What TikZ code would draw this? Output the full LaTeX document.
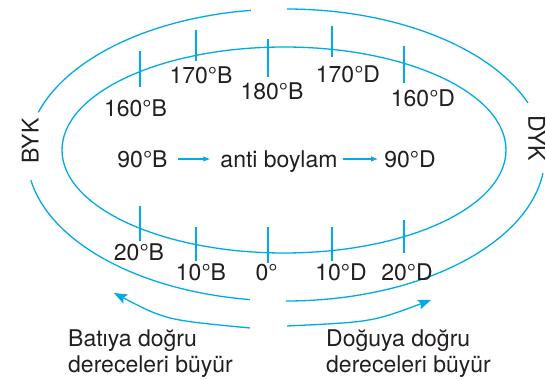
\documentclass[tikz,border=0pt]{standalone}
\usepackage{fontspec}
\setmainfont{TeX Gyre Heros}
\usetikzlibrary{arrows.meta}
\definecolor{lineblue}{RGB}{0,170,230}
\definecolor{inkgray}{RGB}{35,31,32}
\tikzset{
  curve/.style={draw=lineblue, line width=1.3pt},
  tick/.style={draw=lineblue, line width=1.3pt},
  lbl/.style={font=\fontsize{23}{26}\selectfont, text=inkgray, inner sep=0pt,
              text height=16.5pt, text depth=0pt, anchor=center},
  note/.style={font=\fontsize{23}{26}\selectfont, text=inkgray, inner sep=0pt, anchor=base west},
  smallarrow/.style={draw=lineblue, line width=1.1pt, -{Latex[length=7pt,width=5.5pt]}},
  bigarrow/.style={draw=lineblue, line width=1.3pt, -{Stealth[length=13pt,width=10pt,inset=2.5pt]}}
}
\begin{document}
\begin{tikzpicture}[x=1pt,y=1pt]
\useasboundingbox (0,0) rectangle (546,380);

% inner ellipse
\draw[curve] (284,230) ellipse [x radius=222, y radius=103];

% outer ellipse, broken into four arcs
\draw[curve] (286,225) ++(97.8:259 and 146) arc[start angle=97.8, end angle=163, x radius=259, y radius=146];
\draw[curve] (286,225) ++(20.9:259 and 146) arc[start angle=20.9, end angle=89.8, x radius=259, y radius=146];
\draw[curve] (286,225) ++(190:259 and 146) arc[start angle=190, end angle=262, x radius=259, y radius=146];
\draw[curve] (286,225) ++(270:259 and 146) arc[start angle=270, end angle=352.8, x radius=259, y radius=146];

% upper ticks
\draw[tick] (140,329) -- (140,293);
\draw[tick] (196,350) -- (196,319);
\draw[tick] (268,341) -- (268,303);
\draw[tick] (332,354) -- (332,323);
\draw[tick] (404,334) -- (404,297);

% lower ticks
\draw[tick] (140,174) -- (140,139);
\draw[tick] (196,153) -- (196,119);
\draw[tick] (268,153) -- (268,117);
\draw[tick] (332,153) -- (332,119);
\draw[tick] (404,160) -- (404,127);

% upper labels
\node[lbl] (w160) at (135.5,272) {160°B};
\node[lbl] (w170) at (201,305) {170°B};
\node[lbl] (w180) at (272,289) {180°B};
\node[lbl] (e170) at (348,305.5) {170°D};
\node[lbl] (e160) at (423,282) {160°D};

% lower labels
\node[lbl] (w20) at (139,128) {20°B};
\node[lbl] (w10) at (201,108) {10°B};
\node[lbl] (zero) at (266.5,108) {0°};
\node[lbl] (e10) at (341,108) {10°D};
\node[lbl] (e20) at (407,108) {20°D};

% middle row
\node[lbl] (w90) at (142.5,221) {90°B};
\node[lbl] (anti) at (279,221) {anti boylam};
\node[lbl] (e90) at (410,221) {90°D};
\draw[smallarrow, shorten <=10pt, shorten >=10pt] (w90.east) -- (anti.west);
\draw[smallarrow, shorten <=5pt, shorten >=6pt] (anti.east) -- (e90.west);

% side labels
\node[lbl, rotate=90] (byk) at (30.5,239) {BYK};
\node[lbl, rotate=-90] (dyk) at (536.5,242) {DYK};

% direction arrows
\coordinate (lstart) at (250,52);
\coordinate (lend) at (114,87);
\coordinate (rstart) at (287,54);
\coordinate (rend) at (431,80);
\draw[bigarrow] (lstart) .. controls (166,60) .. (lend);
\draw[bigarrow] (rstart) .. controls (372,58) .. (rend);

% notes
\node[note] (wnote1) at (68,33) {Batıya doğru};
\node[note] (wnote2) at (68,7) {dereceleri büyür};
\node[note] (enote1) at (326,33) {Doğuya doğru};
\node[note] (enote2) at (326,7) {dereceleri büyür};
\end{tikzpicture}
\end{document}
